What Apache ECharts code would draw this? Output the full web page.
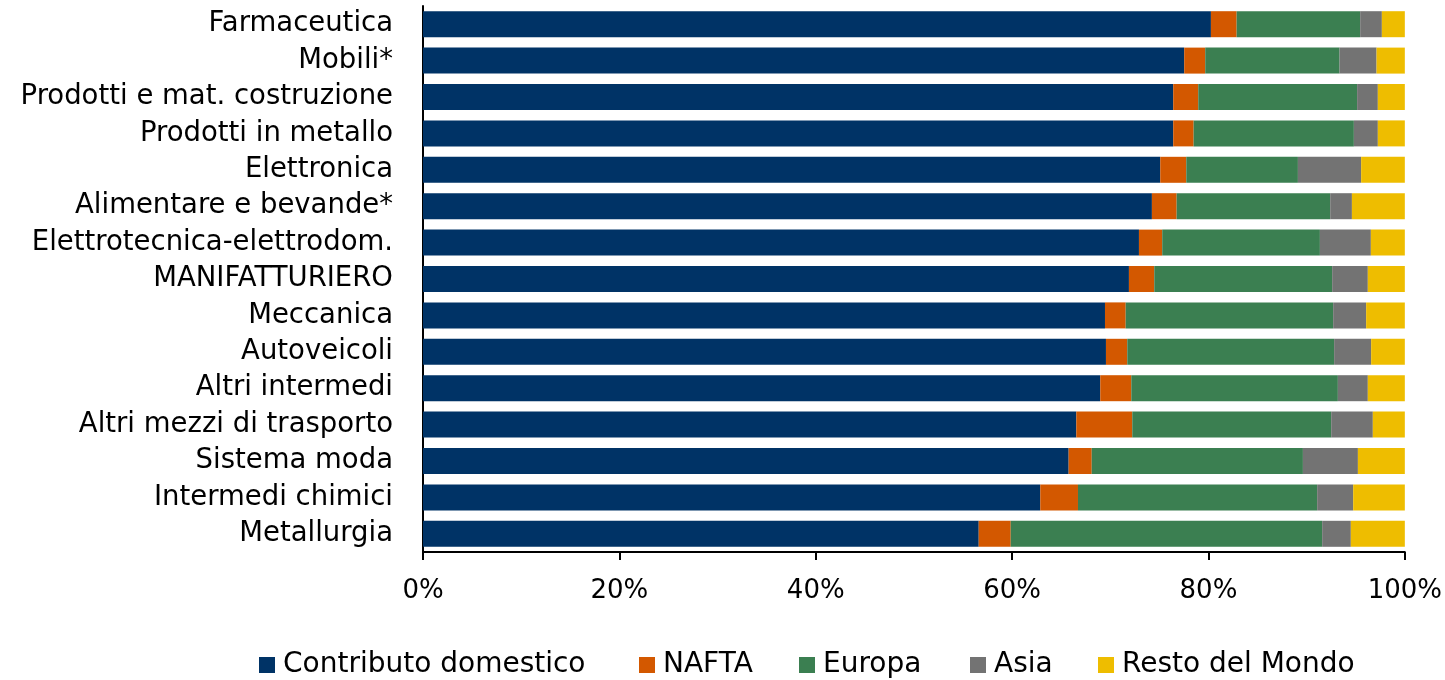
<!DOCTYPE html>
<html>
<head>
<meta charset="utf-8">
<script src="https://cdn.jsdelivr.net/npm/echarts@6/dist/echarts.min.js"></script>
<style>html,body{margin:0;padding:0;background:#fff}#c{width:1445px;height:680px}</style>
</head>
<body>
<div id="c"></div>
<script>
const categories = ["Farmaceutica","Mobili*","Prodotti e mat. costruzione","Prodotti in metallo","Elettronica","Alimentare e bevande*","Elettrotecnica-elettrodom.","MANIFATTURIERO","Meccanica","Autoveicoli","Altri intermedi","Altri mezzi di trasporto","Sistema moda","Intermedi chimici","Metallurgia"];
const domestico = [80.25,77.53,76.41,76.41,75.09,74.24,72.92,71.90,69.46,69.56,68.98,66.54,65.76,62.87,56.60];
const nafta     = [2.62,2.14,2.55,2.08,2.65,2.52,2.37,2.58,2.11,2.17,3.16,5.70,2.35,3.84,3.26];
const europa    = [12.58,13.68,16.18,16.32,11.37,15.64,16.06,18.12,21.13,21.07,21.04,20.26,21.51,24.36,31.72];
const asia      = [2.21,3.77,2.11,2.44,6.44,2.21,5.19,3.63,3.36,3.77,3.05,4.24,5.60,3.67,2.92];
const resto     = [2.34,2.88,2.75,2.75,4.45,5.39,3.46,3.77,3.94,3.43,3.77,3.26,4.78,5.26,5.50];
const seriesNames = ["Contributo domestico","NAFTA","Europa","Asia","Resto del Mondo"];
const colors = ["#003366","#D35800","#3B7F51","#737373","#EEBD00"];
const tickFormat = "{value}%";

const FONT = "DejaVu Sans";
const legendLeft = [259, 639, 799, 970, 1098];
const chart = echarts.init(document.getElementById('c'), null, {renderer:'canvas'});
const dataSets = [domestico, nafta, europa, asia, resto];
chart.setOption({
  animation: false,
  color: colors,
  grid: {left: 423, right: 40, top: 6, bottom: 128, containLabel: false},
  legend: seriesNames.map((n, i) => ({
    left: legendLeft[i], top: 651,
    itemWidth: 16, itemHeight: 16, itemGap: 0,
    icon: 'rect', padding: 0,
    textStyle: {fontFamily: FONT, fontSize: 28, color: '#000', padding: [0, 0, 0, 3]},
    data: [n]
  })),
  xAxis: {
    type: 'value', min: 0, max: 100, interval: 20,
    axisLine: {show: true, lineStyle: {color: '#000', width: 2}},
    axisTick: {show: true, length: 8, lineStyle: {color: '#000', width: 2}},
    splitLine: {show: false},
    axisLabel: {formatter: tickFormat, fontFamily: FONT, fontSize: 26, color: '#000', margin: 26}
  },
  yAxis: {
    type: 'category', inverse: true, data: categories,
    axisLine: {show: true, lineStyle: {color: '#000', width: 2}},
    axisTick: {show: false},
    axisLabel: {interval: 0, fontFamily: FONT, fontSize: 27.5, color: '#000', margin: 30}
  },
  series: seriesNames.map((n, i) => ({
    name: n, type: 'bar', stack: 'tot', barWidth: 26,
    data: dataSets[i]
  }))
});
</script>
</body>
</html>
